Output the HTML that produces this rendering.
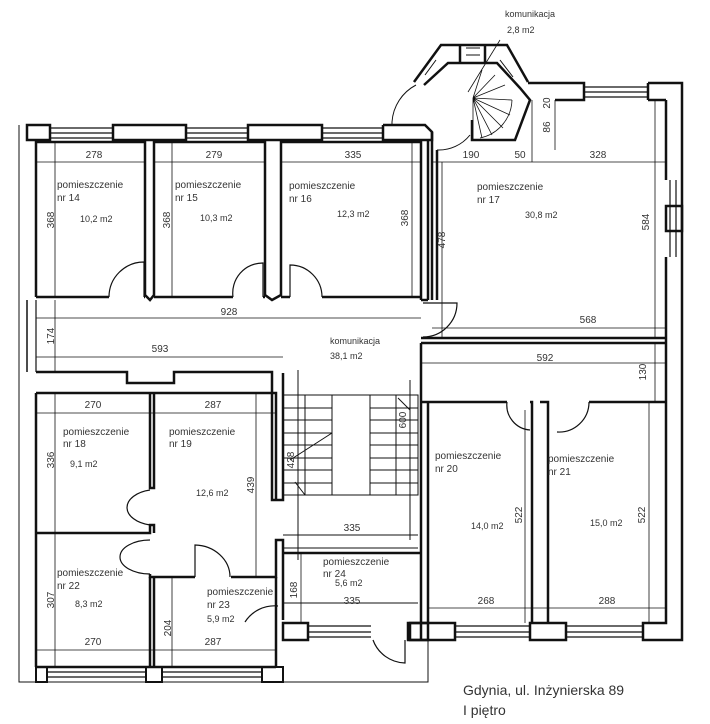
<!DOCTYPE html>
<html><head><meta charset="utf-8"><style>
body{margin:0;background:#fff}
svg{display:block}
text{font-family:"Liberation Sans",sans-serif;font-size:10px;fill:#333}
.d{font-size:11px}
</style></head><body>
<svg width="710" height="724" viewBox="0 0 710 724" xmlns="http://www.w3.org/2000/svg">
<g fill="none" stroke="#111" stroke-width="1.2">
<polyline points="19,125 19,682 428,682 428,640" stroke-width="1"/>
<rect x="27" y="125" width="23" height="15" stroke-width="2.5"/>
<rect x="113" y="125" width="73" height="15" stroke-width="2.5"/>
<rect x="248" y="125" width="74" height="15" stroke-width="2.5"/>
<polyline points="383,125 425,125 432,132 432,140 383,140 383,125" stroke-width="2.5"/>
<line x1="50" y1="128" x2="113" y2="128"/><line x1="50" y1="133" x2="113" y2="133"/><line x1="50" y1="138" x2="113" y2="138"/>
<line x1="186" y1="128" x2="248" y2="128"/><line x1="186" y1="133" x2="248" y2="133"/><line x1="186" y1="138" x2="248" y2="138"/>
<line x1="322" y1="128" x2="383" y2="128"/><line x1="322" y1="133" x2="383" y2="133"/><line x1="322" y1="138" x2="383" y2="138"/>
<g stroke-width="2.5">
<polyline points="36,297 36,142 145,142 145,295 150,300 154,295 154,142 265,142 265,295 272,300 281,295 281,142 421,142 421,300"/>
<polyline points="36,297 109,297"/><polyline points="144,297 145,297"/>
<polyline points="154,297 233,297"/><polyline points="263,297 265,297"/>
<polyline points="281,297 290,297"/><polyline points="322,297 421,297"/>
<line x1="428" y1="140" x2="428" y2="300"/>
<line x1="421" y1="300" x2="428" y2="300"/>
</g>
<path d="M144,297 L144,262 A35,35 0 0 0 109,297"/>
<path d="M263,297 L263,263 A30,30 0 0 0 233,297"/>
<path d="M290,297 L290,265 A32,32 0 0 1 322,297"/>
<line x1="27" y1="300" x2="27" y2="372" stroke-width="1.5"/>
<line x1="36" y1="300" x2="36" y2="372"/>
<polyline points="36,372 127,372 127,383 174,383 174,372 272,372 272,500 283,500 283,373" stroke-width="2.5"/>
<g stroke-width="2.5">
<polyline points="36,393 276,393 276,500"/>
<line x1="36" y1="393" x2="36" y2="667"/>
<polyline points="150,393 150,488 154,488 154,393"/>
<polyline points="36,533 150,533 150,525 154,525 154,533"/>
<polyline points="150,574 150,577 195,577"/>
<polyline points="231,577 276,577 276,540 283,540 283,620"/>
<line x1="150" y1="577" x2="150" y2="667"/>
<line x1="154" y1="577" x2="154" y2="667"/>
<polyline points="36,667 276,667"/>
<line x1="276" y1="577" x2="276" y2="667"/>
</g>
<path d="M150,490 A30,18 0 0 0 150,525"/>
<path d="M150,540 A30,17 0 0 0 150,574"/>
<path d="M195,577 L195,545 A36,32 0 0 1 230,577"/>
<path d="M278,606 A35,35 0 0 0 245,622"/>
<rect x="36" y="667" width="11" height="15" stroke-width="2"/>
<rect x="146" y="667" width="16" height="15" stroke-width="2"/>
<rect x="262" y="667" width="21" height="15" stroke-width="2"/>
<line x1="47" y1="672" x2="146" y2="672"/><line x1="47" y1="677" x2="146" y2="677"/>
<line x1="162" y1="672" x2="262" y2="672"/><line x1="162" y1="677" x2="262" y2="677"/>
<g stroke-width="1">
<rect x="283" y="395" width="135" height="100"/>
<line x1="305" y1="395" x2="305" y2="495"/>
<line x1="332" y1="395" x2="332" y2="495"/>
<line x1="370" y1="395" x2="370" y2="495"/>
<line x1="396" y1="395" x2="396" y2="495"/>
<path d="M283,408H332M283,420H332M283,433H332M283,445H332M283,458H332M283,470H332M283,483H332"/>
<path d="M370,408H418M370,420H418M370,433H418M370,445H418M370,458H418M370,470H418M370,483H418"/>
<line x1="332" y1="433" x2="290" y2="460"/>
<line x1="398" y1="398" x2="410" y2="410"/>
<line x1="295" y1="482" x2="305" y2="495"/>
<line x1="298" y1="370" x2="298" y2="560"/>
<line x1="410" y1="380" x2="410" y2="540"/>
<line x1="283" y1="535" x2="418" y2="535"/>
<line x1="283" y1="548" x2="418" y2="548"/>
</g>
<g stroke-width="2.5">
<polyline points="283,553 421,553"/>
<line x1="421" y1="343" x2="421" y2="640"/>
<line x1="428" y1="402" x2="428" y2="623"/>
<rect x="283" y="623" width="25" height="17"/>
<rect x="408" y="623" width="20" height="17"/>
</g>
<line x1="308" y1="626" x2="371" y2="626"/><line x1="308" y1="632" x2="371" y2="632"/><line x1="308" y1="637" x2="371" y2="637"/>
<path d="M405,640 L405,663 A35,35 0 0 1 373,640"/>
<line x1="283" y1="603" x2="418" y2="603" stroke-width="1"/>
<g stroke-width="2.5">
<line x1="432" y1="132" x2="432" y2="300"/>
<line x1="437" y1="150" x2="437" y2="300"/>
<polyline points="421,338 666,338"/>
<polyline points="421,343 666,343"/>
<polyline points="528,83 584,83 584,100 555,100"/>
<polyline points="648,83 682,83 682,640 643,640 643,623 666,623 666,257"/>
<line x1="666" y1="100" x2="666" y2="180"/>
<line x1="648" y1="83" x2="648" y2="100"/>
<line x1="648" y1="100" x2="666" y2="100"/>
<rect x="666" y="206" width="16" height="25"/>
</g>
<line x1="584" y1="87" x2="648" y2="87"/><line x1="584" y1="92" x2="648" y2="92"/><line x1="584" y1="97" x2="648" y2="97"/>
<line x1="670" y1="180" x2="670" y2="257"/><line x1="676" y1="180" x2="676" y2="257"/>
<path d="M423,303 L457,303 A34,34 0 0 1 423,337"/>
<g stroke-width="2.5">
<polyline points="414,82 441,45 507,45 528,82"/>
<polyline points="424,85 448,63 497,63 520,88 530,100 515,140 472,140 472,120"/>
<line x1="460" y1="45" x2="460" y2="63"/><line x1="485" y1="45" x2="485" y2="63"/>
</g>
<line x1="466" y1="48" x2="480" y2="48" stroke-width="1"/><line x1="466" y1="55" x2="480" y2="55" stroke-width="1"/>
<path d="M425,75 L436,60 M500,60 L513,77" stroke-width="1"/>
<path d="M473,98 L473,140 M473,98 L482,138 M473,98 L492,135 M473,98 L503,128 M473,98 L510,115 M473,98 L512,100 M473,98 L505,85 M473,98 L495,75 M473,98 L482,70" stroke-width="0.8"/>
<path d="M480,138 A40,40 0 0 0 512,100" stroke-width="0.8"/>
<path d="M416,85 A45,45 0 0 0 392,122 L392,125" stroke-width="1"/>
<path d="M437,150 A40,40 0 0 0 470,135" stroke-width="1"/>
<line x1="500" y1="40" x2="468" y2="92" stroke-width="0.8"/>
<g stroke-width="2.5">
<polyline points="421,402 507,402"/>
<polyline points="530,402 532,402 532,623"/>
<polyline points="540,402 548,402 548,623"/>
<polyline points="589,402 666,402"/>
<rect x="410" y="623" width="45" height="17"/>
<rect x="530" y="623" width="36" height="17"/>
</g>
<line x1="455" y1="626" x2="530" y2="626"/><line x1="455" y1="632" x2="530" y2="632"/><line x1="455" y1="637" x2="530" y2="637"/>
<line x1="566" y1="626" x2="643" y2="626"/><line x1="566" y1="632" x2="643" y2="632"/><line x1="566" y1="637" x2="643" y2="637"/>
<path d="M507,402 A25,25 0 0 0 530,430"/>
<path d="M589,402 A30,30 0 0 1 557,432"/>
<g stroke-width="0.8">
<line x1="36" y1="162" x2="145" y2="162"/><line x1="154" y1="162" x2="265" y2="162"/><line x1="281" y1="162" x2="421" y2="162"/>
<line x1="55" y1="142" x2="55" y2="297"/><line x1="172" y1="142" x2="172" y2="297"/><line x1="412" y1="142" x2="412" y2="297"/>
<line x1="432" y1="162" x2="666" y2="162"/><line x1="532" y1="100" x2="532" y2="162"/><line x1="555" y1="100" x2="555" y2="150"/>
<line x1="655" y1="100" x2="655" y2="338"/><line x1="442" y1="162" x2="442" y2="338"/>
<line x1="36" y1="318" x2="421" y2="318"/><line x1="36" y1="357" x2="283" y2="357"/><line x1="55" y1="300" x2="55" y2="372"/>
<line x1="432" y1="328" x2="666" y2="328"/><line x1="421" y1="363" x2="666" y2="363"/><line x1="655" y1="343" x2="655" y2="402"/>
<line x1="36" y1="413" x2="276" y2="413"/><line x1="55" y1="393" x2="55" y2="533"/><line x1="256" y1="393" x2="256" y2="577"/>
<line x1="36" y1="650" x2="276" y2="650"/><line x1="55" y1="533" x2="55" y2="667"/><line x1="172" y1="577" x2="172" y2="667"/>
<line x1="428" y1="608" x2="666" y2="608"/><line x1="525" y1="410" x2="525" y2="623"/><line x1="649" y1="402" x2="649" y2="623"/>
<line x1="301" y1="553" x2="301" y2="623"/>
</g>
</g>
<text x="505" y="17" style="font-size:9px">komunikacja</text>
<text x="507" y="33" style="font-size:9px">2,8 m2</text>
<g class="d" text-anchor="middle">
<text x="94" y="158">278</text><text x="214" y="158">279</text><text x="353" y="158">335</text>
<text x="471" y="158">190</text><text x="520" y="158">50</text><text x="598" y="158">328</text>
<text x="229" y="315">928</text><text x="160" y="352">593</text><text x="588" y="323">568</text><text x="545" y="361">592</text>
<text x="93" y="408">270</text><text x="213" y="408">287</text><text x="352" y="531">335</text>
<text x="93" y="645">270</text><text x="213" y="645">287</text><text x="352" y="604">335</text>
<text x="486" y="604">268</text><text x="607" y="604">288</text>
<text transform="translate(54,220) rotate(-90)">368</text>
<text transform="translate(170,220) rotate(-90)">368</text>
<text transform="translate(408,218) rotate(-90)">368</text>
<text transform="translate(445,240) rotate(-90)">478</text>
<text transform="translate(550,127) rotate(-90)">86</text>
<text transform="translate(550,103) rotate(-90)">20</text>
<text transform="translate(649,222) rotate(-90)">584</text>
<text transform="translate(54,336) rotate(-90)">174</text>
<text transform="translate(646,372) rotate(-90)">130</text>
<text transform="translate(54,460) rotate(-90)">336</text>
<text transform="translate(254,485) rotate(-90)">439</text>
<text transform="translate(294,460) rotate(-90)">428</text>
<text transform="translate(406,420) rotate(-90)">600</text>
<text transform="translate(522,515) rotate(-90)">522</text>
<text transform="translate(645,515) rotate(-90)">522</text>
<text transform="translate(54,600) rotate(-90)">307</text>
<text transform="translate(171,628) rotate(-90)">204</text>
<text transform="translate(297,590) rotate(-90)">168</text>
</g>
<g>
<text x="57" y="188">pomieszczenie</text><text x="57" y="201">nr 14</text><text x="80" y="222" style="font-size:9px">10,2 m2</text>
<text x="175" y="188">pomieszczenie</text><text x="175" y="201">nr 15</text><text x="200" y="221" style="font-size:9px">10,3 m2</text>
<text x="289" y="189">pomieszczenie</text><text x="289" y="202">nr 16</text><text x="337" y="217" style="font-size:9px">12,3 m2</text>
<text x="477" y="190">pomieszczenie</text><text x="477" y="203">nr 17</text><text x="525" y="218" style="font-size:9px">30,8 m2</text>
<text x="330" y="344" style="font-size:9px">komunikacja</text><text x="330" y="359" style="font-size:9px">38,1 m2</text>
<text x="63" y="435">pomieszczenie</text><text x="63" y="447">nr 18</text><text x="70" y="467" style="font-size:9px">9,1 m2</text>
<text x="169" y="435">pomieszczenie</text><text x="169" y="447">nr 19</text><text x="196" y="496" style="font-size:9px">12,6 m2</text>
<text x="435" y="459">pomieszczenie</text><text x="435" y="472">nr 20</text><text x="471" y="529" style="font-size:9px">14,0 m2</text>
<text x="548" y="462">pomieszczenie</text><text x="548" y="475">nr 21</text><text x="590" y="526" style="font-size:9px">15,0 m2</text>
<text x="57" y="576">pomieszczenie</text><text x="57" y="589">nr 22</text><text x="75" y="607" style="font-size:9px">8,3 m2</text>
<text x="207" y="595">pomieszczenie</text><text x="207" y="608">nr 23</text><text x="207" y="622" style="font-size:9px">5,9 m2</text>
<text x="323" y="565">pomieszczenie</text><text x="323" y="577">nr 24</text><text x="335" y="586" style="font-size:9px">5,6 m2</text>
</g>
<text x="463" y="695" style="font-size:14px;fill:#333">Gdynia, ul. Inżynierska 89</text>
<text x="463" y="715" style="font-size:14px;fill:#333">I piętro</text>
</svg>
</body></html>
